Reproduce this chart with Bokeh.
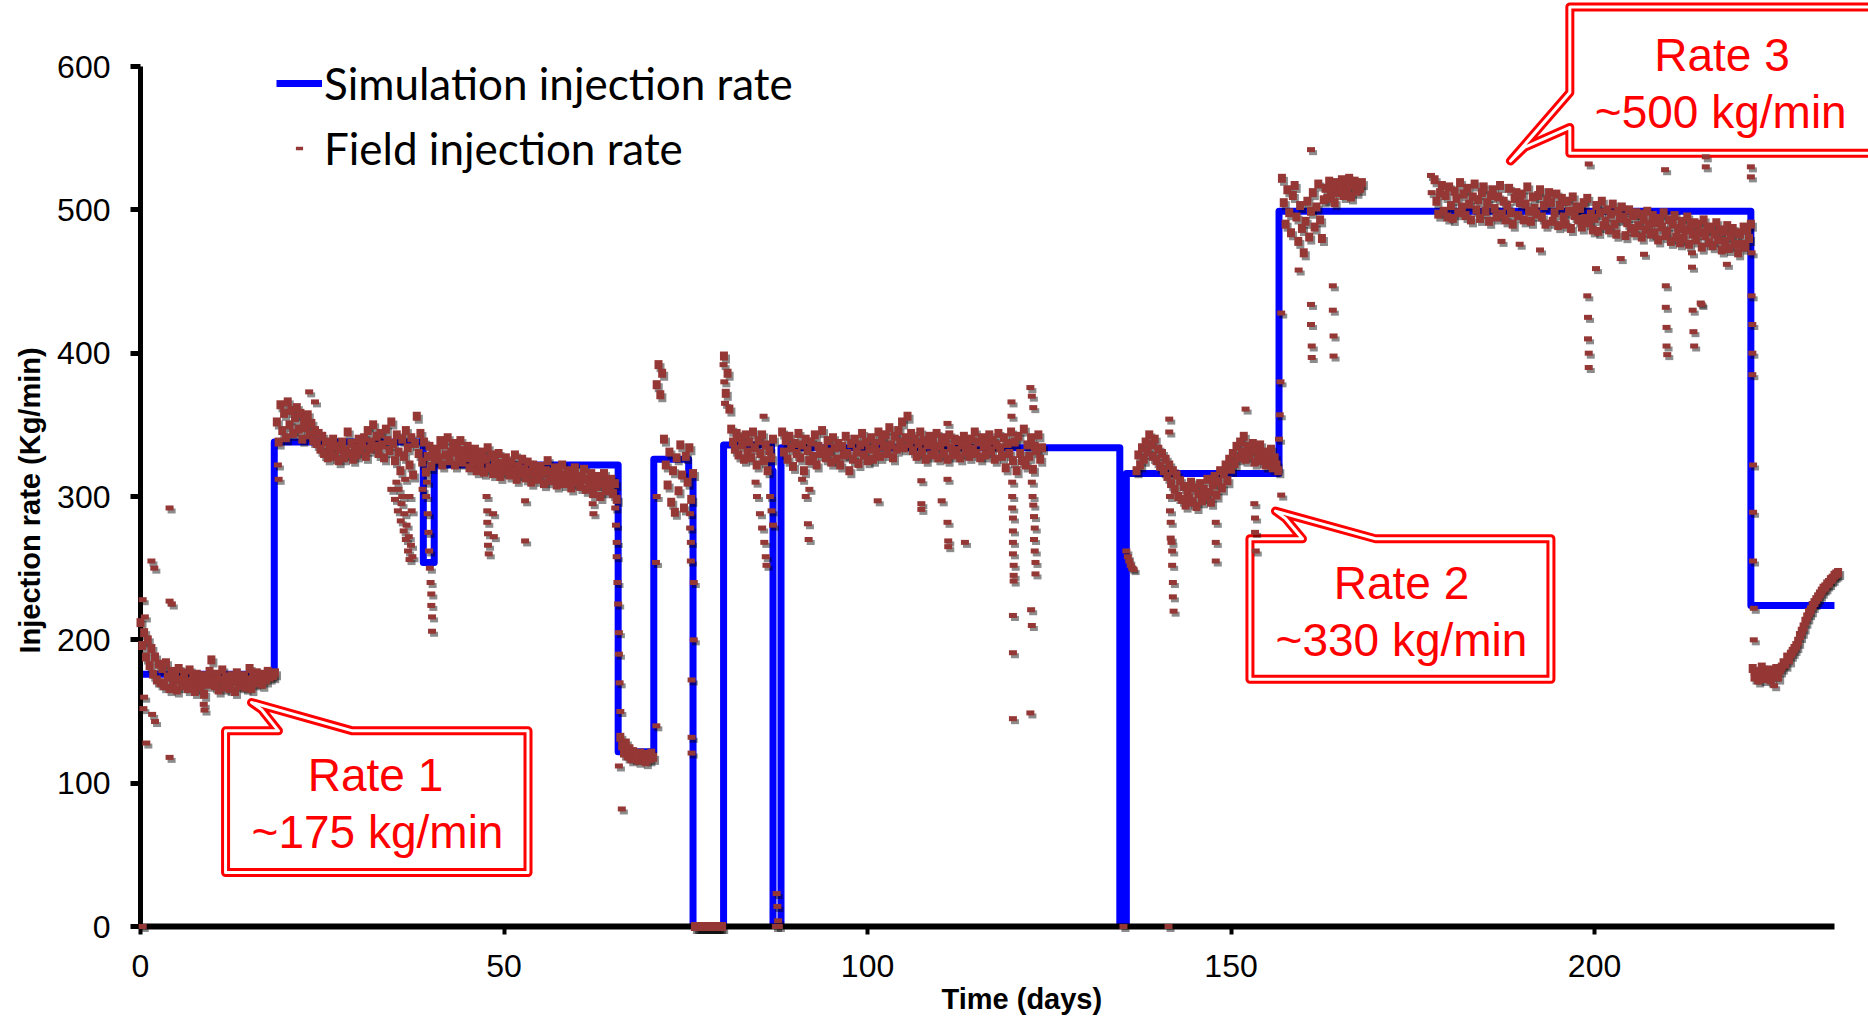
from bokeh.plotting import figure
from bokeh.models import (Range1d, FixedTicker, Legend, LegendItem, Label, Title,
                          PolyAnnotation, ColumnDataSource)
from bokeh.embed import file_html
from bokeh.resources import INLINE

# ---------------- data ----------------
x_ticks = [0, 50, 100, 150, 200]
y_ticks = [0, 100, 200, 300, 400, 500, 600]

# simulation (step changes: day, rate held until next day)
sim_day = [0, 18.4, 38.9, 40.4, 65.7, 70.6, 75.4, 76.0, 80.2, 86.8, 87.0, 88.1,
           134.7, 135.6, 156.6, 221.5, 233.0]
sim_rate = [176, 338, 254, 322, 122, 326, 315, 0, 336, 318, 0, 334,
            0, 316, 499, 224, 224]

# field readings, sampled every field_step days from each segment start
field_step = 0.25
seg_starts = [0.0, 18.75, 66.0, 71.0, 76.25, 80.25, 88.25, 137.0, 157.0, 178.0, 221.75]
seg_a = [212, 196, 205, 188, 200, 182, 194, 176, 188, 172, 183, 170, 180, 168, 184, 174, 166,
         178, 170, 176, 165, 180, 172, 168, 177, 171, 166, 179, 169, 174, 164, 176, 170,
         167, 175, 162, 173, 169, 178, 186, 172, 168, 176, 165, 172, 179, 167, 174, 170,
         166, 175, 171, 164, 177, 169, 173, 168, 175, 167, 172, 180, 166, 174, 170, 177,
         171, 175, 169, 176, 172, 178, 174, 176, 175, 177]
seg_b = [352, 338, 364, 346, 358, 341, 366, 350, 360, 344, 355, 362, 347, 358, 340, 353,
         348, 357, 343, 351, 339, 346, 337, 344, 333, 342, 330, 338, 327, 336, 331, 340,
         328, 335, 325, 333, 338, 327, 332, 345, 330, 337, 326, 334, 329, 340, 332, 336,
         341, 328, 346, 333, 338, 350, 335, 342, 330, 344, 336, 327, 347, 339, 332, 352,
         337, 325, 343, 331, 318, 340, 328, 346, 334, 322, 341, 315, 337, 356, 330, 344,
         324, 338, 317, 328, 335, 321, 331, 326, 333, 327, 339, 322, 336, 329, 341, 325,
         331, 337, 322, 334, 328, 339, 324, 332, 327, 335, 320, 330, 324, 333, 318, 328,
         322, 331, 317, 326, 334, 320, 329, 316, 325, 319, 330, 314, 323, 318, 327, 321,
         315, 324, 318, 329, 312, 321, 316, 326, 319, 313, 324, 317, 310, 322, 315, 320,
         312, 321, 316, 309, 318, 325, 311, 317, 314, 320, 308, 316, 312, 322, 309, 315,
         318, 311, 306, 315, 320, 310, 314, 307, 313, 319, 305, 312, 308, 316, 302, 311,
         307, 314, 300, 309, 316, 304, 311, 306, 312, 302, 309, 298]
seg_c = [132, 126, 121, 128, 119, 124, 117, 122, 118, 120, 116, 121, 118, 119, 115, 120,
         117, 121, 118]
seg_d = [378, 392, 371, 386, 340, 322, 308, 331, 296, 318, 289, 327, 304, 336, 315, 292,
         328, 310, 334, 298, 316]
seg_zero = [0, 0, 0, 0, 0, 0, 0, 0, 0, 0, 0, 0, 0, 0, 0, 0]
seg_e = [398, 372, 386, 361, 347, 338, 333, 344, 329, 341, 336, 326, 343, 331, 338, 327,
         345, 334, 322, 339, 330, 343, 325, 336, 318, 332, 327, 340]
seg_f = [345, 331, 339, 326, 342, 334, 321, 337, 330, 344, 327, 336, 318, 340, 332, 325,
         338, 328, 343, 322, 335, 330, 346, 333, 327, 339, 331, 324, 341, 334, 326, 337,
         322, 335, 329, 342, 330, 318, 337, 326, 340, 331, 323, 336, 344, 329, 338, 325,
         333, 341, 326, 337, 331, 345, 328, 339, 335, 343, 330, 348, 336, 327, 342, 333,
         346, 338, 352, 334, 341, 356, 337, 344, 332, 340, 328, 337, 345, 331, 339, 326,
         336, 342, 329, 338, 333, 344, 327, 335, 341, 330, 338, 326, 343, 334, 329, 340,
         332, 339, 327, 336, 342, 331, 337, 328, 340, 333, 345, 330, 338, 327, 341, 335,
         329, 337, 343, 332, 339, 326, 336, 344, 334, 328, 341, 320, 337, 330, 345, 325,
         338, 318, 342, 330, 325, 347, 322, 336, 328, 341, 319, 335, 332, 343, 326, 334]
seg_g = [318, 329, 322, 334, 326, 338, 331, 343, 336, 328, 340, 325, 333, 321, 330, 318,
         326, 314, 322, 309, 318, 305, 315, 300, 311, 298, 307, 294, 304, 299, 310, 296,
         306, 293, 302, 309, 297, 305, 300, 312, 303, 296, 308, 314, 301, 310, 318, 306,
         316, 322, 311, 326, 319, 330, 323, 335, 327, 338, 331, 342, 326, 335, 329, 333,
         337, 324, 332, 328, 336, 325, 331, 322, 329, 324, 333, 320, 327, 322, 318]
seg_h = [522, 505, 490, 514, 498, 484, 510, 517, 495, 478, 503, 487, 470, 492, 506, 481,
         499, 512, 488, 502, 518, 493, 480, 507, 515, 508, 520, 511, 517, 505, 519, 512,
         516, 521, 510, 518, 514, 522, 509, 517, 520, 513, 518, 515, 519]
seg_i = [521, 506, 497, 512, 517, 499, 510, 495, 516, 503, 494, 513, 508, 498, 519, 502,
         511, 496, 515, 504, 493, 509, 518, 500, 507, 494, 512, 516, 499, 505, 492, 510,
         514, 501, 495, 509, 517, 497, 506, 493, 503, 515, 498, 490, 508, 512, 496, 505,
         511, 493, 504, 516, 499, 492, 509, 501, 497, 510, 514, 495, 503, 490, 507, 512,
         505, 492, 498, 511, 489, 503, 508, 495, 490, 506, 499, 487, 509, 496, 502, 493,
         501, 488, 505, 494, 508, 491, 497, 486, 494, 503, 485, 498, 506, 489, 492, 500,
         486, 497, 504, 490, 483, 499, 494, 502, 495, 482, 491, 500, 487, 496, 484, 498,
         489, 497, 481, 493, 486, 499, 490, 483, 496, 484, 491, 479, 494, 488, 498, 482,
         485, 493, 478, 490, 496, 481, 487, 477, 492, 480, 486, 495, 476, 489, 483, 491,
         479, 490, 484, 474, 493, 482, 487, 477, 488, 475, 483, 491, 479, 486, 472, 485,
         478, 489, 473, 482, 487, 476, 484, 470, 483, 476, 488, 474, 486, 480, 490]
seg_j = [180, 174, 178, 172, 176, 181, 173, 177, 175, 179, 172, 178, 176, 180, 174, 179,
         181, 184, 183, 188, 186, 190, 192, 194, 196, 199, 203, 206, 209, 213, 216, 219,
         221, 224, 226, 228, 230, 232, 234, 236, 237, 239, 240, 242, 243, 245, 246, 247]
seg_values = [seg_a, seg_b, seg_c, seg_d, seg_zero, seg_e, seg_f, seg_g, seg_h, seg_i, seg_j]

# isolated field readings (day, rate)
spikes_rate1 = [(0.3, 228), (0.6, 216), (1.5, 255), (1.9, 250), (4.0, 292), (4.0, 227),
                (4.3, 225), (0.8, 128), (4.0, 118), (1.6, 148), (2.0, 143), (8.7, 155),
                (8.8, 151), (0.5, 160), (0.4, 152), (0.3, 0)]
spikes_rate2a = [(18.9, 322), (19.0, 312), (23.2, 373), (24.0, 366), (34.5, 305), (35.0, 298),
                 (35.4, 290), (35.8, 283), (36.2, 276), (36.5, 270), (36.8, 262), (37.0, 256),
                 (35.2, 310), (36.0, 300), (35.5, 305), (35.9, 295), (36.3, 288), (36.6, 280),
                 (36.9, 272), (37.2, 266), (37.4, 258), (36.4, 312), (37.0, 300), (37.3, 290),
                 (39.3, 300), (39.5, 288), (39.6, 275), (39.7, 262),
                 (39.8, 250), (39.9, 240), (40.0, 232), (40.0, 224), (40.1, 216), (40.1, 206),
                 (39.4, 310), (38.8, 305), (47.6, 300), (47.7, 290), (47.7, 282), (47.8, 274),
                 (47.8, 266), (47.9, 260), (48.5, 288), (48.6, 272), (52.9, 297), (52.9, 269),
                 (62.2, 295), (62.3, 288), (65.3, 292), (65.4, 280), (65.5, 268), (65.5, 258),
                 (65.6, 240), (65.7, 225), (65.8, 205), (65.8, 190), (65.9, 170), (66.0, 150),
                 (65.8, 112), (66.2, 82)]
spikes_mid = [(70.9, 254), (70.95, 140), (71.0, 300), (75.6, 288), (75.6, 278), (75.7, 268),
              (75.7, 255), (75.8, 172), (75.8, 132), (75.8, 121), (76.1, 240), (76.1, 200),
              (80.2, 392), (80.3, 380), (80.4, 365), (84.6, 310), (84.8, 300), (85.2, 288),
              (85.5, 278), (85.8, 268), (86.0, 258), (86.1, 252), (86.6, 300), (86.8, 290),
              (87.0, 280), (87.5, 23), (87.6, 14), (87.7, 4), (87.4, 0), (87.8, 0), (85.7, 356)]
spikes_rate2b = [(91.0, 312), (91.5, 300), (92.0, 305), (91.8, 281), (91.9, 270), (107.4, 311),
                 (107.4, 295), (107.4, 291), (111.0, 351), (111.0, 312), (111.0, 282),
                 (111.1, 269), (111.1, 265), (101.4, 297), (110.2, 297), (113.4, 268),
                 (119.8, 366), (119.8, 356), (119.9, 310), (119.9, 300), (119.9, 292),
                 (120.0, 285), (120.0, 276), (120.0, 268), (120.0, 260), (120.1, 252),
                 (120.1, 245), (120.1, 241), (120.0, 217), (120.0, 191), (120.0, 145),
                 (122.4, 376), (122.6, 370), (122.8, 362), (122.6, 310), (122.7, 300),
                 (122.8, 294), (122.9, 286), (123.0, 278), (122.9, 270), (123.0, 262),
                 (123.1, 254), (123.1, 246), (122.5, 221), (122.6, 210), (122.4, 149)]
spikes_rate2c = [(135.2, 0), (135.6, 262), (135.8, 258), (136.0, 255), (136.2, 252), (136.4, 250),
                 (136.6, 249), (141.5, 354), (141.5, 345), (141.6, 300), (141.6, 290),
                 (141.7, 282), (141.7, 271), (141.8, 268), (141.9, 262), (141.9, 252),
                 (142.0, 240), (142.0, 230), (142.1, 220), (147.9, 282), (147.9, 268),
                 (147.9, 255), (153.2, 295), (153.3, 285), (153.3, 275), (153.4, 262),
                 (152.0, 361), (156.9, 301), (141.4, 0)]
spikes_rate3 = [(156.6, 340), (156.7, 357), (156.8, 380), (156.9, 428), (161.0, 434), (161.0, 420),
                (161.1, 405), (161.1, 397), (164.0, 447), (164.0, 430), (164.1, 412), (164.1, 398),
                (161.0, 542), (159.3, 458), (177.5, 524), (177.6, 512), (189.7, 476), (187.2, 478),
                (200.2, 459), (199.0, 440), (199.1, 425), (199.1, 410), (199.2, 400), (199.2, 390),
                (209.8, 447), (209.8, 432), (209.9, 418), (209.9, 405), (210.0, 399), (213.5, 430),
                (213.6, 415), (213.7, 405), (214.6, 435), (214.7, 434), (213.4, 470), (213.4, 460),
                (199.2, 532), (209.7, 528), (215.3, 530), (215.3, 537), (221.5, 530), (221.5, 523),
                (192.5, 472), (203.6, 466), (206.8, 469), (218.2, 462),
                (221.6, 470), (221.6, 440), (221.7, 420), (221.7, 400), (221.7, 385), (221.8, 322),
                (221.8, 289), (221.8, 255), (221.9, 222), (221.9, 200), (224.7, 168)]
spike_lists = [spikes_rate1, spikes_rate2a, spikes_mid, spikes_rate2b, spikes_rate2c, spikes_rate3]

# callout annotations (data units) and their texts
callout_shapes = [
    ([11.7, 18.98, 16.64, 15.27, 29.16, 53.3, 53.3, 11.7],
     [136.5, 136.5, 151.4, 156.3, 136.5, 136.5, 37.7, 37.7]),
    ([152.6, 159.83, 157.49, 156.11, 169.87, 194.0, 194.0, 152.6],
     [270.5, 270.5, 284.7, 289.8, 270.5, 270.5, 172.5, 172.5]),
    ([196.6, 242.08, 242.08, 196.6, 196.6, 190.36, 188.44, 196.6],
     [641.5, 641.5, 539.5, 539.5, 557.5, 543.5, 534.1, 581.9]),
]
callout_texts = [
    ("Rate 1", 32.32, 105.4), ("~175 kg/min", 32.6, 65.6),
    ("Rate 2", 173.44, 239.7), ("~330 kg/min", 173.44, 199.6),
    ("Rate 3", 217.53, 608.1), ("~500 kg/min", 217.36, 568.0),
]

# ---------------- build ----------------
band_day, band_rate = [], []
for start, vals in zip(seg_starts, seg_values):
    for i, v in enumerate(vals):
        band_day.append(start + i * field_step)
        band_rate.append(v)
spike_day, spike_rate = [], []
for lst in spike_lists:
    for d, r in lst:
        spike_day.append(d)
        spike_rate.append(r)

X_END = 237.68
Y_END = 646.05
p = figure(width=1868, height=1020, output_backend="svg", toolbar_location=None,
           x_range=Range1d(0, X_END), y_range=Range1d(0, Y_END),
           min_border_left=140, min_border_right=0, min_border_top=0, min_border_bottom=94)
p.outline_line_color = None
p.grid.visible = False
p.background_fill_color = "white"
p.border_fill_color = "white"

# axes
xa = p.xaxis[0]
xa.ticker = FixedTicker(ticks=x_ticks)
xa.bounds = (0, 233)
xa.axis_line_width = 6
xa.axis_line_color = "black"
xa.major_tick_line_width = 4
xa.major_tick_out = 8
xa.major_tick_in = 0
xa.minor_tick_line_color = None
xa.major_label_text_font = "Liberation Sans"
xa.major_label_text_font_size = "32px"
xa.major_label_text_color = "black"
xa.major_label_standoff = 20

ya = p.yaxis[0]
ya.ticker = FixedTicker(ticks=y_ticks)
ya.bounds = (0, 600)
ya.axis_line_width = 5
ya.axis_line_color = "black"
ya.major_tick_line_width = 5
ya.major_tick_out = 10
ya.major_tick_in = 0
ya.minor_tick_line_color = None
ya.major_label_text_font = "Liberation Sans"
ya.major_label_text_font_size = "32px"
ya.major_label_text_color = "black"
ya.major_label_standoff = 20

# axis titles, positioned along the drawn axis spans
p.add_layout(Title(text="Injection rate (Kg/min)", align="left", offset=273, standoff=17,
                   text_font="Liberation Sans", text_font_style="bold",
                   text_font_size="29px", text_color="black"), "left")
p.add_layout(Title(text="Time (days)", align="left", offset=801, standoff=3,
                   text_font="Liberation Sans", text_font_style="bold",
                   text_font_size="29px", text_color="black"), "below")

# simulation line
sim_src = ColumnDataSource(dict(day=sim_day, rate=sim_rate))
sim_r = p.step("day", "rate", source=sim_src, mode="after", line_color="#0000FF",
               line_width=7, line_join="round")

# field points with a drop shadow (shadow drawn through slightly shifted ranges)
p.extra_x_ranges = {"shadow": Range1d(-0.28, X_END - 0.28)}
p.extra_y_ranges = {"shadow": Range1d(2.1, Y_END + 2.1)}
band_src = ColumnDataSource(dict(day=band_day, rate=band_rate))
spike_src = ColumnDataSource(dict(day=spike_day, rate=spike_rate))
for src, h in ((band_src, 9), (spike_src, 5)):
    p.rect("day", "rate", width=8, height=h, width_units="screen", height_units="screen",
           source=src, x_range_name="shadow", y_range_name="shadow",
           fill_color="black", fill_alpha=0.45, line_color=None, level="overlay")
for src, h in ((band_src, 9), (spike_src, 5)):
    p.rect("day", "rate", width=8, height=h, width_units="screen", height_units="screen",
           source=src, fill_color="#953735", line_color=None, level="overlay")

# legend
dash_r = p.scatter(x=[float("nan")], y=[float("nan")], marker="dash",
                   line_color="#953735", line_width=3.5)
legend = Legend(items=[LegendItem(label="Simulation injection rate", renderers=[sim_r]),
                       LegendItem(label="Field injection rate", renderers=[dash_r])],
                location=(136, 752), orientation="vertical",
                glyph_width=46, glyph_height=18, label_standoff=2, spacing=13,
                padding=0, margin=0,
                label_text_font="Lato", label_text_font_size="44px",
                label_text_color="black", label_text_baseline="alphabetic",
                border_line_color=None, background_fill_alpha=0)
p.add_layout(legend)

# callouts
for xs, ys in callout_shapes:
    p.add_layout(PolyAnnotation(xs=xs, ys=ys, fill_color=None, fill_alpha=0,
                                line_color="#FF0000", line_alpha=1, line_width=9,
                                line_join="round"))
    p.add_layout(PolyAnnotation(xs=xs, ys=ys, fill_color=None, fill_alpha=0,
                                line_color="white", line_alpha=1, line_width=3,
                                line_join="round"))
for txt, x, y in callout_texts:
    p.add_layout(Label(x=x, y=y, text=txt, text_align="center", text_baseline="middle",
                       text_font="Liberation Sans", text_font_size="46px",
                       text_color="#FF0000"))

open("out.html", "w").write(file_html(p, INLINE))
